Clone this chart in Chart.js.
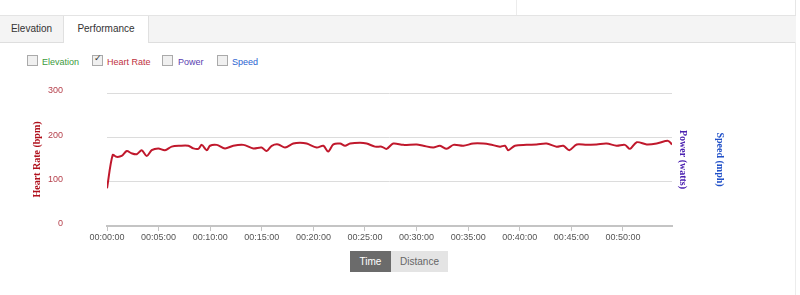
<!DOCTYPE html>
<html>
<head>
<meta charset="utf-8">
<script src="https://cdn.jsdelivr.net/npm/chart.js@4/dist/chart.umd.min.js"></script>
<style>
  body { margin: 0; width: 800px; height: 295px; background: #fff; font-family: Arial, "Liberation Sans", sans-serif; position: relative; overflow: hidden; }
  .topline { position: absolute; left: 0; top: 0; width: 795px; height: 15px; border-right: 1px solid #e6e6e6; }
  .topline .sep { position: absolute; left: 516px; top: 0; width: 1px; height: 15px; background: #ececec; }
  .tabbar { position: absolute; left: 0; top: 15px; width: 796px; height: 26px; background: #f4f4f4; border-top: 1px solid #e4e4e4; border-bottom: 1px solid #dedede; }
  .tab { position: absolute; top: 0; height: 26px; line-height: 26px; font-size: 10px; color: #333; text-align: center; }
  .tab.active { background: #fff; height: 27px; border-left: 1px solid #e0e0e0; border-right: 1px solid #e0e0e0; }
  .rightline { position: absolute; left: 795px; top: 42px; width: 1px; height: 253px; background: #ececec; }
  .legend { position: absolute; top: 55px; font-size: 9px; }
  .legend span { position: absolute; white-space: nowrap; top: 2px; }
  .cb { position: absolute; width: 9px; height: 9px; border: 1px solid #aaa; background: #f0f0f0; top: 0; }
  .cb.on::after { content: "\2713"; position: absolute; left: 1px; top: -3px; font-size: 9px; color: #333; }
  #wrap { position: absolute; left: 0; top: 80px; width: 800px; height: 170px; }
  .btn { position: absolute; top: 251px; height: 21px; line-height: 21px; font-size: 10px; text-align: center; }
</style>
</head>
<body>
<div class="topline"><div class="sep"></div></div>
<div class="tabbar">
  <div class="tab" style="left:0;width:63px;">Elevation</div>
  <div class="tab active" style="left:63px;width:84px;">Performance</div>
</div>
<div class="rightline"></div>

<div class="legend" style="left:0;width:300px;">
  <div class="cb" style="left:27px;"></div><span style="left:42px;color:#3c9a3c;">Elevation</span>
  <div class="cb on" style="left:92px;"></div><span style="left:107px;color:#c03040;">Heart Rate</span>
  <div class="cb" style="left:162px;"></div><span style="left:178px;color:#5a3cb0;">Power</span>
  <div class="cb" style="left:217px;"></div><span style="left:232px;color:#2a62d0;">Speed</span>
</div>

<div id="wrap"><canvas id="perfChart"></canvas></div>

<div class="btn" style="left:350px;width:41px;background:#6b6b6b;color:#fff;">Time</div>
<div class="btn" style="left:391px;width:57px;background:#e4e4e4;color:#666;">Distance</div>

<script>
// Час (секунди від старту)
const elapsedSec = [0, 33, 56, 85, 115, 143, 173, 202, 231, 260, 298, 337, 376, 424, 473, 502, 531, 551, 580, 599,
  638, 686, 734, 793, 851, 899, 928, 958, 996, 1035, 1083, 1122, 1161, 1219, 1258, 1286, 1316, 1355, 1384, 1413,
  1471, 1510, 1558, 1597, 1626, 1664, 1723, 1801, 1839, 1897, 1936, 1975, 2014, 2072, 2129, 2188, 2227, 2285, 2314, 2333,
  2372, 2440, 2498, 2556, 2614, 2653, 2688, 2731, 2789, 2847, 2905, 2963, 3011, 3041, 3080, 3138, 3196, 3263, 3285];

// Пульс (bpm)
const heartRate = [85, 160, 156, 158, 169, 164, 162, 171, 158, 171, 175, 171, 179, 181, 181, 175, 174, 183, 171, 181,
  183, 175, 181, 183, 175, 177, 169, 181, 184, 177, 186, 188, 186, 177, 181, 168, 184, 186, 181, 186,
  188, 186, 179, 179, 174, 186, 183, 184, 181, 177, 181, 174, 183, 181, 186, 186, 184, 179, 181, 171,
  181, 183, 184, 186, 179, 181, 171, 184, 183, 184, 186, 181, 183, 174, 189, 184, 186, 192, 184];

// Підписи осей
const hrTicks = [0, 100, 200, 300];
const timeTicks = [0, 300, 600, 900, 1200, 1500, 1800, 2100, 2400, 2700, 3000];

function fmtTime(s) {
  const h = Math.floor(s / 3600), m = Math.floor((s % 3600) / 60), sec = Math.round(s % 60);
  return [h, m, sec].map(v => v.toString().padStart(2, '0')).join(':');
}

const points = elapsedSec.map((t, i) => ({ x: t, y: heartRate[i] }));
const titleFont = { size: 10, weight: 'bold', family: '"Liberation Serif", serif' };

const ctx = document.getElementById('perfChart').getContext('2d');
new Chart(ctx, {
  type: 'line',
  data: {
    datasets: [{
      label: 'Heart Rate',
      data: points,
      yAxisID: 'y',
      borderColor: '#c0182c',
      borderWidth: 2,
      pointRadius: 0,
      tension: 0.3,
      fill: false
    }]
  },
  options: {
    responsive: true,
    maintainAspectRatio: false,
    animation: false,
    layout: { padding: { left: 27, right: 70, top: 13, bottom: 0 } },
    plugins: { legend: { display: false }, tooltip: { enabled: false } },
    scales: {
      x: {
        type: 'linear',
        min: 0,
        max: elapsedSec[elapsedSec.length - 1],
        afterBuildTicks: s => { s.ticks = timeTicks.map(v => ({ value: v })); },
        afterFit: s => { s.height = 24; },
        border: { color: '#c4c4c4', width: 2 },
        grid: { drawOnChartArea: false, tickLength: 5, color: '#c4c4c4' },
        ticks: {
          maxRotation: 0,
          autoSkip: false,
          padding: 1,
          color: '#555',
          font: { size: 9, family: 'Arial, "Liberation Sans"' },
          callback: v => fmtTime(v)
        }
      },
      y: {
        position: 'left',
        min: 0,
        max: 300,
        // ширина осі фіксована, зайвий відступ зверху/знизу прибираємо
        afterFit: s => { s.width = 80; s.paddingTop = 0; s.paddingBottom = 0; },
        afterBuildTicks: s => { s.ticks = hrTicks.map(v => ({ value: v })); },
        border: { display: false },
        grid: { drawTicks: false, color: c => c.tick.value === 0 ? 'rgba(0,0,0,0)' : '#dcdcdc' },
        ticks: { padding: 44, labelOffset: -2, color: '#b5404c', font: { size: 9, family: 'Arial, "Liberation Sans"' } },
        title: { display: true, text: 'Heart Rate (bpm)', color: '#b0101c', font: titleFont }
      },
      power: {
        position: 'right',
        afterFit: s => { s.width = 21; },
        border: { display: false },
        grid: { drawOnChartArea: false, drawTicks: false },
        ticks: { display: false },
        title: { display: true, text: 'Power (watts)', color: '#4a20b0', font: titleFont }
      },
      speed: {
        position: 'right',
        afterFit: s => { s.width = 37; },
        border: { display: false },
        grid: { drawOnChartArea: false, drawTicks: false },
        ticks: { display: false },
        title: { display: true, text: 'Speed (mph)', color: '#2050c8', font: titleFont }
      }
    }
  }
});
</script>
</body>
</html>
